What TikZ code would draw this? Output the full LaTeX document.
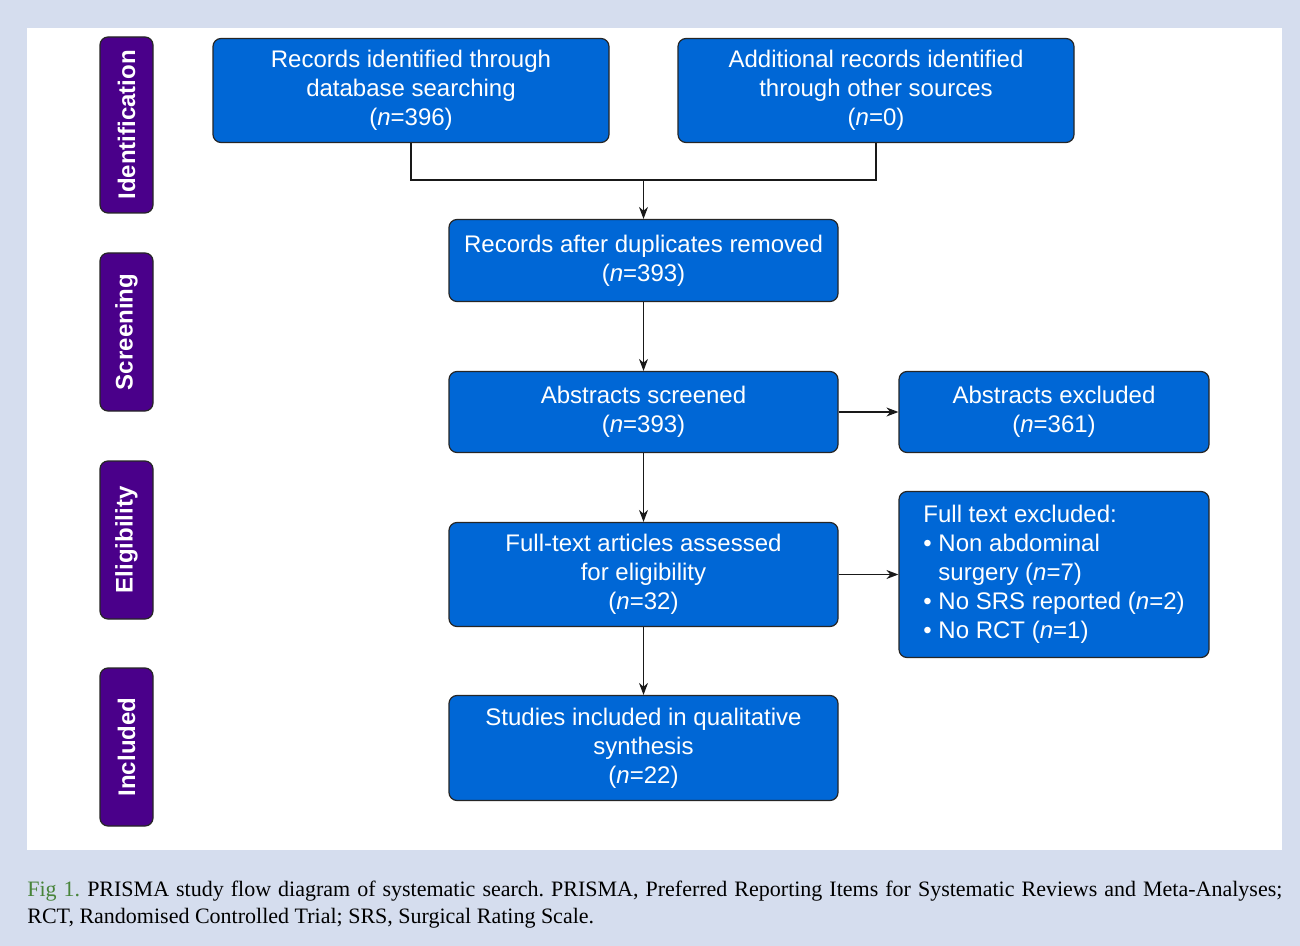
\documentclass[tikz,border=0pt]{standalone}
\usepackage{fontspec}
\setmainfont{Liberation Sans}
\newfontfamily\capfont{Liberation Serif}
\usetikzlibrary{arrows.meta}
\definecolor{boxblue}{RGB}{0,103,214}
\definecolor{stagepurple}{RGB}{74,0,138}
\definecolor{panelbg}{RGB}{213,221,238}
\definecolor{figgreen}{RGB}{72,132,58}
\tikzset{ box/.style = { rectangle
                       , draw = black!85
                       , fill = boxblue
                       , text = white
                       , rounded corners = 4pt
                       , line width = 0.6pt
                       , align = center
                       , inner sep = 2pt
                       , font = \fontsize{12}{14.5}\selectfont
                       },
          stage/.style = { rectangle
                       , draw = black!85
                       , fill = stagepurple
                       , text = white
                       , rounded corners = 4pt
                       , line width = 0.6pt
                       , rotate = 90
                       , minimum height = 26.5pt
                       , font = \fontsize{12}{14}\selectfont\bfseries
                       },
          link/.style = { line width = 0.6pt
                       , draw = black!90
                       }
        }

\begin{document}
\begin{tikzpicture}[x=0.5pt, y=-0.5pt, >={Stealth[length=6pt,width=4.5pt]}]
    \fill[panelbg] (0,0) rectangle (1300,946);
    \fill[white] (27,28) rectangle (1282,850);
    \useasboundingbox (0,0) rectangle (1300,946);

    % stages
    \node[stage, minimum width=88pt] (ident) at (126.5,125) {Identification};
    \node[stage, minimum width=79pt] (screen) at (126.5,332) {Screening};
    \node[stage, minimum width=79pt] (elig) at (126.5,540) {Eligibility};
    \node[stage, minimum width=79pt] (incl) at (126.5,747) {Included};

    % boxes
    \node[box, minimum width=198pt, minimum height=52pt] (db) at (411,90.5)
        {Records identified through\\database searching\\(\emph{n}=396)};
    \node[box, minimum width=198pt, minimum height=52pt] (other) at (876,90.5)
        {Additional records identified\\through other sources\\(\emph{n}=0)};
    \node[box, minimum width=194.5pt, minimum height=41pt] (dup) at (643.5,260.5)
        {Records after duplicates removed\\(\emph{n}=393)};
    \node[box, minimum width=194.5pt, minimum height=40.5pt] (abs) at (643.5,412)
        {Abstracts screened\\(\emph{n}=393)};
    \node[box, minimum width=155pt, minimum height=40.5pt] (absex) at (1054,412)
        {Abstracts excluded\\(\emph{n}=361)};
    \node[box, minimum width=194.5pt, minimum height=52pt] (full) at (643.5,574.5)
        {Full-text articles assessed\\for eligibility\\(\emph{n}=32)};
    \node[box, minimum width=155pt, minimum height=83pt, align=left] (fullex) at (1054,574.5)
        {Full text excluded:\\
         • Non abdominal\\
         \hphantom{• }surgery (\emph{n}=7)\\
         • No SRS reported (\emph{n}=2)\\
         • No RCT (\emph{n}=1)};
    \node[box, minimum width=194.5pt, minimum height=52.5pt] (qual) at (643.5,748)
        {Studies included in qualitative\\synthesis\\(\emph{n}=22)};

    % connectors
    \coordinate (join) at (643.5,180);
    \draw[link] (db.south) |- (join);
    \draw[link] (other.south) |- (join);
    \draw[link, ->] (join) -- (dup.north);
    \draw[link, ->] (dup.south) -- (abs.north);
    \draw[link, ->] (abs.east) -- (absex.west);
    \draw[link, ->] (abs.south) -- (full.north);
    \draw[link, ->] (full.east) -- (fullex.west);
    \draw[link, ->] (full.south) -- (qual.north);

    % caption
    \node[anchor=north west, inner sep=0pt, text width=627.5pt, align=justify,
          font=\capfont\fontsize{11}{13.5}\selectfont\frenchspacing] (caption) at (27,881)
        {\textcolor{figgreen}{Fig 1.} PRISMA study flow diagram of systematic search. PRISMA, Preferred Reporting Items for Systematic Reviews and Meta-Analyses;\linebreak
         RCT, Randomised Controlled Trial; SRS, Surgical Rating Scale.};
\end{tikzpicture}
\end{document}
